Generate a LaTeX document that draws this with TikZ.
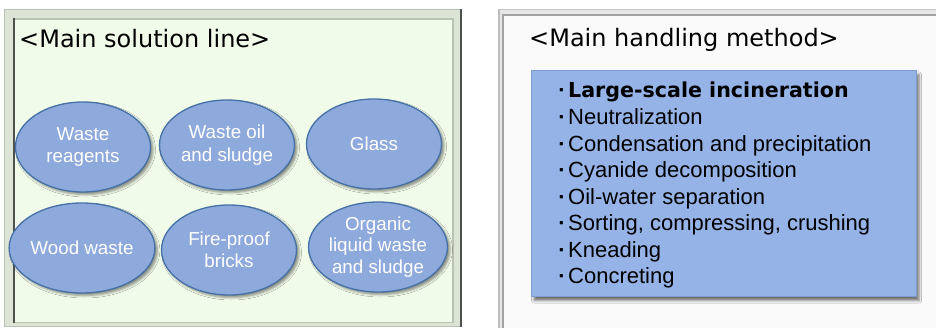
\documentclass[tikz,border=0pt]{standalone}
\usepackage{fontspec}
\setmainfont{Liberation Sans}
\newfontfamily\dvsans{DejaVu Sans}
\usetikzlibrary{shapes.geometric,shadows.blur}

\definecolor{rimgreen}{HTML}{DCE4D6}
\definecolor{rimline}{HTML}{B9C3B4}
\definecolor{panelgreen}{HTML}{F1FBE9}
\definecolor{darkrim}{HTML}{4E524E}
\definecolor{rimgray}{HTML}{E6E6E6}
\definecolor{rimgrayline}{HTML}{A2A2A2}
\definecolor{panelgray}{HTML}{FAFAFA}
\definecolor{ovalfill}{HTML}{8EA9DB}
\definecolor{ovaledge}{HTML}{4671A6}
\definecolor{listfill}{HTML}{95B3E7}
\definecolor{listedge}{HTML}{7E9CCF}

\tikzset{
  wasteoval/.style={ellipse, draw=ovaledge, line width=1.3pt, fill=ovalfill,
    minimum width=135pt, minimum height=90pt, inner sep=0pt,
    text=white, align=center, font=\fontsize{18.8}{22.5}\selectfont,
    blur shadow={shadow xshift=2.5pt, shadow yshift=-2.5pt,
      shadow blur radius=2.5pt, shadow opacity=45}},
  paneltitle/.style={anchor=base west, inner sep=0pt,
    font=\dvsans\fontsize{24}{28}\selectfont},
  listline/.style={anchor=base west, inner sep=0pt,
    font=\fontsize{22}{26}\selectfont},
}

% middle-dot bullet in a fixed-width slot in front of each list entry
\newcommand{\dotmark}{\makebox[16.3pt][r]{\textbf{·}\kern2.4pt}}

\begin{document}
\begin{tikzpicture}[x=1pt, y=-1pt]
\useasboundingbox (0,0) rectangle (936,328);
\fill[white] (0,0) rectangle (936,328);

% ---- left panel: bevelled green frame ----
\fill[rimgreen] (4,9) rectangle (462,327);
\draw[rimline, line width=1pt] (4.5,9.5) -- (4.5,326.5) -- (461,326.5);
\draw[rimline, line width=1pt] (4.5,9.5) -- (461,9.5);
\fill[panelgreen] (14,18) rectangle (454,322);
\draw[rimline, line width=1.5pt] (14,18.8) -- (454,18.8);
\draw[rimline, line width=1.5pt] (453.2,18) -- (453.2,322);
\draw[rimline, line width=1pt] (14,322) -- (454,322);
\draw[darkrim, line width=2pt] (14,18) -- (14,323);
\draw[darkrim, line width=2pt] (461,9) -- (461,327);

\node[paneltitle] (soltitle) at (19,48) {<Main solution line>};

\node[wasteoval] (reagents) at (83,147)  {Waste\\reagents};
\node[wasteoval] (oil)      at (227,145) {Waste oil\\and sludge};
\node[wasteoval] (glass)    at (374,144) {Glass};
\node[wasteoval] (wood)     at (82,248)  {Wood waste};
\node[wasteoval] (bricks)   at (229,250) {Fire-proof\\bricks};
\node[wasteoval, font=\fontsize{18.8}{21.5}\selectfont]
                 (organic)  at (378,247) {Organic\\liquid waste\\and sludge};

% ---- right panel: bevelled grey frame ----
\fill[rimgray] (498,9) rectangle (936,328);
\draw[rimgrayline!60, line width=1pt] (498.5,9.5) -- (936,9.5);
\draw[rimgrayline!70, line width=1.5pt] (499.2,9) -- (499.2,328);
\fill[panelgray] (504,15) rectangle (936,328);
\draw[rimgrayline, line width=2pt] (503,15) -- (936,15);
\draw[rimgrayline, line width=2pt] (503,14) -- (503,328);

\node[paneltitle] (methtitle) at (529,47) {<Main handling method>};

\node[fill=listfill, draw=listedge, line width=1pt, inner sep=0pt,
      minimum width=385pt, minimum height=226pt, anchor=north west,
      blur shadow={shadow xshift=3pt, shadow yshift=-3.5pt,
        shadow blur radius=2.5pt, shadow opacity=55}]
  (methods) at (530.5,70.5) {};

\node[listline] (m1) at (551.7,98)  {\dotmark{\dvsans\bfseries\fontsize{20.6}{26}\selectfont Large-scale incineration}};
\node[listline] (m2) at (551.7,125) {\dotmark Neutralization};
\node[listline] (m3) at (551.7,151.5) {\dotmark Condensation and precipitation};
\node[listline] (m4) at (551.7,178) {\dotmark Cyanide decomposition};
\node[listline] (m5) at (551.7,204.5) {\dotmark Oil-water separation};
\node[listline] (m6) at (551.7,231) {\dotmark Sorting, compressing, crushing};
\node[listline] (m7) at (551.7,257.5) {\dotmark Kneading};
\node[listline] (m8) at (551.7,284) {\dotmark Concreting};
\end{tikzpicture}
\end{document}
